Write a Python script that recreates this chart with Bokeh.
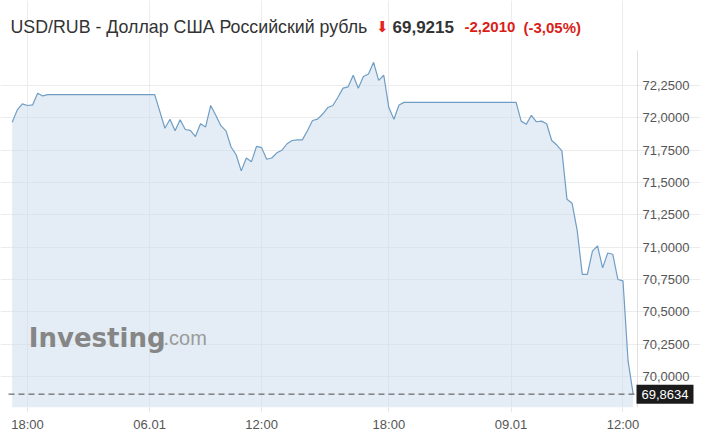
from bokeh.plotting import figure
from bokeh.models import Range1d, FixedTicker, Label
from bokeh.embed import file_html
from bokeh.resources import INLINE

# ---- data (15-minute points) ----
rates = [
    71.967, 72.062, 72.108, 72.096, 72.100, 72.190, 72.170, 72.180,
    72.180, 72.180, 72.180, 72.180, 72.180, 72.180, 72.180, 72.180,
    72.180, 72.180, 72.180, 72.180, 72.180, 72.180, 72.180, 72.180,
    72.180, 72.180, 72.180, 72.180, 72.180,
    72.050, 71.920, 71.990, 71.900, 71.985, 71.910, 71.903, 71.856, 71.955, 71.930,
    72.096, 72.020, 71.940, 71.900, 71.775, 71.715, 71.590, 71.690, 71.660, 71.780,
    71.770, 71.680, 71.690, 71.730, 71.750, 71.800, 71.825, 71.830, 71.830, 71.900,
    71.980, 71.990, 72.030, 72.080, 72.096, 72.160, 72.230, 72.240, 72.330, 72.230,
    72.320, 72.340, 72.430, 72.290, 72.330, 72.080, 71.990, 72.100, 72.120,
    72.120, 72.120, 72.120, 72.120, 72.120, 72.120, 72.120, 72.120, 72.120, 72.120,
    72.120, 72.120, 72.120, 72.120, 72.120, 72.120, 72.120, 72.120, 72.120, 72.120,
    72.120, 72.120,
    71.975, 71.950, 72.020, 71.970, 71.975, 71.955, 71.825, 71.790, 71.745, 71.370,
    71.340, 71.130, 70.790, 70.790, 70.970, 71.010, 70.840, 70.955, 70.945, 70.750,
    70.740, 70.120, 69.8634,
]
steps = list(range(len(rates)))

x_ticks = [3, 27, 49, 74, 98, 120]
x_tick_labels = ["18:00", "06.01", "12:00", "18:00", "09.01", "12:00"]
y_ticks = [70.0, 70.25, 70.5, 70.75, 71.0, 71.25, 71.5, 71.75, 72.0, 72.25]
y_tick_labels = ["70,0000", "70,2500", "70,5000", "70,7500", "71,0000",
                 "71,2500", "71,5000", "71,7500", "72,0000", "72,2500"]
last_value = 69.8634
last_value_label = "69,8634"

title_pair = "USD/RUB - Доллар США Российский рубль"
title_price = "69,9215"
title_change = "-2,2010"
title_change_pct = "(-3,05%)"

# ---- view window (plot box spans X_LEFT..X_RIGHT, Y_LOW..Y_TOP) ----
Y_LOW, Y_TOP, Y_CANVAS_TOP = 69.760, 72.521, 72.908
X_CANVAS_LEFT, X_LEFT, X_RIGHT, X_TICK_END, X_CANVAS_RIGHT = -2.299, -0.727, 122.85, 123.83, 135.23

p = figure(width=710, height=434, output_backend="svg", toolbar_location=None,
           x_range=Range1d(X_CANVAS_LEFT, X_CANVAS_RIGHT),
           y_range=Range1d(Y_LOW, Y_CANVAS_TOP),
           y_axis_location="right",
           min_border_left=0, min_border_right=10, min_border_top=0, min_border_bottom=27)
p.outline_line_color = None
p.background_fill_color = "white"
p.border_fill_color = "white"

# grid (limited to the plot box)
p.xgrid.ticker = FixedTicker(ticks=x_ticks)
p.ygrid.ticker = FixedTicker(ticks=y_ticks)
p.xgrid.bounds = (Y_LOW, Y_TOP)
p.ygrid.bounds = (X_LEFT, X_TICK_END)
p.xgrid.grid_line_color = "#ececec"
p.ygrid.grid_line_color = "#ececec"

# area + line
p.varea(x=steps, y1=Y_LOW, y2=rates, fill_color="#c9dbec", fill_alpha=0.5)
p.line(steps, rates, line_color="#6f9dc4", line_width=1.2)

# price-axis line at the right edge of the plot box
p.segment(x0=[X_RIGHT], y0=[Y_LOW], x1=[X_RIGHT], y1=[Y_TOP], line_color="#e0e0e0", line_width=1)

# last value dashed line
p.segment(x0=[X_LEFT], y0=[last_value], x1=[X_RIGHT], y1=[last_value],
          line_color="#4a4a4a", line_dash="6 4", line_width=1)

# axes
yax = p.yaxis[0]
yax.ticker = FixedTicker(ticks=y_ticks)
yax.major_label_overrides = dict(zip(y_ticks, y_tick_labels))
yax.axis_line_color = None
yax.major_tick_line_color = None
yax.major_tick_out = 0
yax.major_tick_in = 0
yax.minor_tick_line_color = None
yax.major_label_standoff = -58
yax.major_label_text_font = "Liberation Sans"
yax.major_label_text_font_size = "13px"
yax.major_label_text_color = "#555555"

xax = p.xaxis[0]
xax.ticker = FixedTicker(ticks=x_ticks)
xax.major_label_overrides = dict(zip(x_ticks, x_tick_labels))
xax.axis_line_color = None
xax.major_tick_line_color = "#e8e8e8"
xax.major_tick_out = 5
xax.major_tick_in = 0
xax.minor_tick_line_color = None
xax.major_label_standoff = 4
xax.major_label_text_font = "Liberation Sans"
xax.major_label_text_font_size = "13px"
xax.major_label_text_color = "#555555"

# last value tag
p.add_layout(Label(x=636, y=last_value, x_units="screen", y_units="data",
                   text=last_value_label, text_color="white", text_font="Liberation Sans",
                   text_font_size="13px", text_baseline="middle", text_align="left",
                   background_fill_color="#1b1b1b", padding=5))

# title line (screen units measured from the bottom-left of the plot frame)
TB = 380.3
p.add_layout(Label(x=10, y=TB, x_units="screen", y_units="screen", text=title_pair,
                   text_font="Liberation Sans", text_font_size="17.8px", text_color="#333333",
                   text_baseline="alphabetic"))
p.add_layout(Label(x=375.5, y=TB + 0.5, x_units="screen", y_units="screen", text="⬇",
                   text_font="DejaVu Sans", text_font_size="15px", text_color="#e5231d",
                   text_baseline="alphabetic"))
p.add_layout(Label(x=392, y=TB, x_units="screen", y_units="screen", text=title_price,
                   text_font="Liberation Sans", text_font_size="17px", text_font_style="bold",
                   text_color="#333333", text_baseline="alphabetic"))
p.add_layout(Label(x=464, y=TB, x_units="screen", y_units="screen", text=title_change,
                   text_font="Liberation Sans", text_font_size="15px", text_font_style="bold",
                   text_color="#d91e18", text_baseline="alphabetic"))
p.add_layout(Label(x=523, y=TB, x_units="screen", y_units="screen", text=title_change_pct,
                   text_font="Liberation Sans", text_font_size="15px", text_font_style="bold",
                   text_color="#d91e18", text_baseline="alphabetic"))

# watermark logo
p.add_layout(Label(x=28.3, y=69.3, x_units="screen", y_units="screen", text="Investing",
                   text_font="DejaVu Sans", text_font_size="26px", text_font_style="bold",
                   text_color="#868686", text_baseline="alphabetic"))
p.add_layout(Label(x=163, y=69.3, x_units="screen", y_units="screen", text=".com",
                   text_font="Liberation Sans", text_font_size="20px",
                   text_color="#9a9a9a", text_baseline="alphabetic"))

open("out.html", "w").write(file_html(p, INLINE))
